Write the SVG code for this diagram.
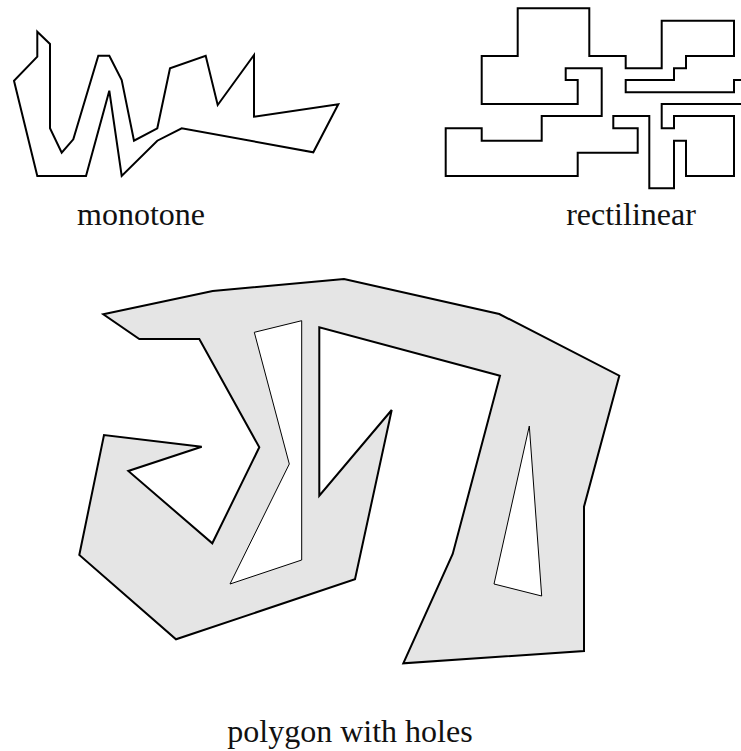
<svg xmlns="http://www.w3.org/2000/svg" width="741" height="751" viewBox="0 0 741 751">
  <style>
    .outline { fill: none; stroke: #000; stroke-width: 2; stroke-linejoin: miter; }
    .region { fill: #e5e5e5; stroke: #000; stroke-width: 2; stroke-linejoin: miter; }
    .hole { fill: #fff; stroke: #000; stroke-width: 1; stroke-linejoin: miter; }
    .caption { font-family: "Liberation Serif", "DejaVu Serif", serif; font-size: 32px; fill: #111; text-anchor: middle; }
  </style>
  <rect width="741" height="751" fill="#fff"/>

  <!-- x-monotone polygon -->
  <g id="monotone">
    <polygon class="outline" points="37.3,31.7 50,44 50,128.3 61.7,152.7 73.3,139.3 98.3,55.7 109.3,55.7 121.7,80 134,140.7 157.3,128.3 170,68.3 205.7,55.7 217.7,105 254,55 254,116.7 338.3,104.3 313.3,152.3 181.7,128.3 157.3,140.7 121.7,176 109.3,90.7 86,176 37.3,176 14,80.7 37.3,56.7"/>
    <text class="caption" x="141" y="225">monotone</text>
  </g>

  <!-- rectilinear polygon (runs past the right edge) -->
  <g id="rectilinear">
    <polygon class="outline" points="517.7,8.3 589.3,8.3 589.3,56 625.7,56 625.7,68.3 661.7,68.3 661.7,20.7 734,20.7 734,56 686,56 686,68.3 674,68.3 674,80 625.7,80 625.7,92.3 734,92.3 734,80 760,80 760,104 661.7,104 661.7,128.3 674,128.3 674,116 734,116 734,176 686,176 686,140.7 674,140.7 674,188.3 649.3,188.3 649.3,116 613.3,116 613.3,128.3 637.7,128.3 637.7,152.7 577.7,152.7 577.7,176 445.7,176 445.7,128.3 481.7,128.3 481.7,140.7 541.7,140.7 541.7,116 601.7,116 601.7,68.3 565.7,68.3 565.7,80 577.7,80 577.7,104 481.7,104 481.7,56 517.7,56"/>
    <text class="caption" x="631" y="225">rectilinear</text>
  </g>

  <!-- polygon with two holes -->
  <g id="polygon-with-holes">
    <polygon class="region" points="103.3,314.3 212.7,291 344,279 499.3,314 619.3,375.7 584,506.7 584,651 403.3,663.3 452.7,554 500,375.7 319.3,327.3 319.3,495.7 391.7,410 355,579.3 176,639.3 79.3,555 104,435 201.7,446.7 128.3,471 212.3,543.3 259.3,447.3 199.3,339 139.3,339"/>
    <polygon class="hole" points="254.3,332.3 301.7,320.7 301.7,560 230,584 289.3,464"/>
    <polygon class="hole" points="529.3,426 541.7,596 494,584"/>
    <text class="caption" x="350" y="742">polygon with holes</text>
  </g>
</svg>
